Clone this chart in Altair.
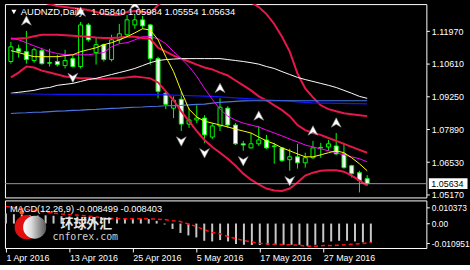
import altair as alt
import pandas as pd

FONT = "Liberation Sans"

# ---------------- data (AUDNZD daily) ----------------
opens = [1.1071,1.1124,1.1112,1.1075,1.1116,1.1066,1.1071,1.1054,1.1083,1.1050,
         1.1223,1.1108,1.1141,1.1079,1.1161,1.1182,1.1223,1.1244,1.1223,1.1083,
         1.0939,1.0877,1.0914,1.0811,1.0828,1.0836,1.0757,1.0803,1.0877,1.0807,
         1.0729,1.0712,1.0729,1.0745,1.0720,1.0712,1.0663,1.0675,1.0650,1.0671,
         1.0712,1.0716,1.0720,1.0687,1.0638,1.0609,1.05840]
highs = [1.1153,1.1141,1.1198,1.1128,1.1128,1.1124,1.1099,1.1120,1.1099,1.1235,
         1.1231,1.1169,1.1145,1.1182,1.1227,1.1264,1.1264,1.1260,1.1227,1.1091,
         1.0947,1.0926,1.0947,1.0877,1.0889,1.0848,1.0815,1.0918,1.0885,1.0815,
         1.0741,1.0774,1.0803,1.0766,1.0733,1.0714,1.0708,1.0729,1.0692,1.0741,
         1.0733,1.0745,1.0774,1.0733,1.0642,1.0617,1.05984]
lows = [1.1062,1.1087,1.1062,1.1066,1.1058,1.1050,1.1050,1.1042,1.1046,1.1042,
        1.1153,1.1058,1.1071,1.1071,1.1145,1.1174,1.1207,1.1207,1.1058,1.0918,
        1.0873,1.0836,1.0782,1.0795,1.0815,1.0733,1.0749,1.0782,1.0795,1.0724,
        1.0700,1.0710,1.0720,1.0708,1.0646,1.0654,1.0617,1.0626,1.0630,1.0667,
        1.0671,1.0700,1.0683,1.0626,1.0589,1.0527,1.05554]
closes = [1.1132,1.1112,1.1079,1.1120,1.1062,1.1064,1.1058,1.1075,1.1050,1.1223,
          1.1161,1.1141,1.1079,1.1161,1.1186,1.1244,1.1244,1.1219,1.1083,1.0947,
          1.0893,1.0910,1.0811,1.0828,1.0836,1.0766,1.0803,1.0881,1.0807,1.0729,
          1.0724,1.0729,1.0745,1.0712,1.0718,1.0659,1.0675,1.0650,1.0671,1.0712,
          1.0714,1.0729,1.0687,1.0630,1.0605,1.0576,1.05634]

ma_yellow = [1.1116,1.1108,1.1099,1.1091,1.1091,1.1091,1.1091,1.1095,1.1099,1.1112,
             1.1120,1.1128,1.1141,1.1149,1.1161,1.1174,1.1190,1.1207,1.1202,1.1161,
             1.1091,1.1029,1.0947,1.0873,1.0840,1.0823,1.0815,1.0807,1.0799,1.0790,
             1.0782,1.0774,1.0757,1.0741,1.0729,1.0712,1.0700,1.0687,1.0675,1.0675,
             1.0683,1.0692,1.0700,1.0692,1.0671,1.0646,1.0617]
ma_magenta = [1.1169,1.1161,1.1149,1.1136,1.1124,1.1112,1.1104,1.1099,1.1099,1.1099,
              1.1099,1.1104,1.1108,1.1132,1.1145,1.1149,1.1161,1.1174,1.1174,1.1165,
              1.1145,1.1112,1.1083,1.1050,1.1009,1.0959,1.0914,1.0873,1.0844,1.0827,
              1.0815,1.0807,1.0799,1.0786,1.0774,1.0762,1.0749,1.0737,1.0724,1.0716,
              1.0708,1.0700,1.0692,1.0683,1.0675,1.0667,1.0654]
ma_white = [1.0939,1.0943,1.0947,1.0951,1.0959,1.0963,1.0972,1.0976,1.0980,1.0988,
            1.0996,1.1001,1.1009,1.1017,1.1025,1.1033,1.1042,1.1054,1.1066,1.1075,
            1.1079,1.1081,1.1083,1.1083,1.1083,1.1083,1.1083,1.1083,1.1079,1.1075,
            1.1071,1.1066,1.1060,1.1050,1.1042,1.1029,1.1017,1.1005,1.0996,1.0988,
            1.0980,1.0972,1.0963,1.0951,1.0939,1.0926,1.0918]
ma_blue = [1.0937,1.0937,1.0937,1.0936,1.0935,1.0935,1.0934,1.0934,1.0934,1.0934,
           1.0934,1.0934,1.0934,1.0933,1.0933,1.0933,1.0933,1.0933,1.0933,1.0933,
           1.0932,1.0931,1.0930,1.0929,1.0928,1.0927,1.0926,1.0924,1.0922,1.0920,
           1.0918,1.0916,1.0914,1.0912,1.0910,1.0908,1.0906,1.0903,1.0901,1.0899,
           1.0898,1.0898,1.0897,1.0897,1.0896,1.0896,1.0895]
ma_steel = [1.0855,1.0857,1.0858,1.0860,1.0861,1.0863,1.0865,1.0866,1.0868,1.0869,
            1.0871,1.0872,1.0874,1.0876,1.0877,1.0879,1.0881,1.0882,1.0884,1.0885,
            1.0887,1.0888,1.0889,1.0891,1.0893,1.0894,1.0898,1.0901,1.0903,1.0905,
            1.0907,1.0908,1.0908,1.0908,1.0908,1.0908,1.0908,1.0908,1.0908,1.0908,
            1.0908,1.0908,1.0908,1.0908,1.0908,1.0908,1.0908]
band_outer = [1.1334,1.1330,1.1326,1.1322,1.1318,1.1310,1.1301,1.1297,1.1293,1.1289,
              1.1285,1.1277,1.1268,1.1264,1.1264,1.1277,1.1281,1.1277,1.1272,1.1305,
              1.1334,1.1359,1.1392,1.1421,1.1441,1.1450,1.1441,1.1425,1.1400,1.1375,
              1.1347,1.1318,1.1297,1.1268,1.1227,1.1174,1.1112,1.1021,1.0959,1.0922,
              1.0889,1.0873,1.0864,1.0856,1.0852,1.0848,1.0844]
band_upper = [1.1165,1.1167,1.1169,1.1176,1.1182,1.1182,1.1182,1.1180,1.1178,1.1176,
              1.1174,1.1171,1.1169,1.1169,1.1171,1.1174,1.1174,1.1169,1.1165,1.1128,
              1.1112,1.1095,1.1083,1.1071,1.1058,1.1046,1.1038,1.1025,1.1013,1.0992,
              1.0972,1.0951,1.0926,1.0910,1.0889,1.0869,1.0844,1.0807,1.0786,1.0774,
              1.0766,1.0753,1.0741,1.0729,1.0716,1.0704,1.0692]
band_lower = [1.1005,1.1025,1.1050,1.1046,1.1033,1.1025,1.1017,1.1009,1.1005,1.1001,
              1.1001,1.0998,1.0998,1.1001,1.1001,1.1005,1.1009,1.1005,1.1001,1.0984,
              1.0947,1.0910,1.0864,1.0823,1.0782,1.0745,1.0716,1.0692,1.0667,1.0638,
              1.0605,1.0580,1.0560,1.0543,1.0535,1.0533,1.0543,1.0568,1.0597,1.0609,
              1.0617,1.0619,1.0619,1.0613,1.0597,1.0576,1.0556]

macd_hist = [0.0045,0.0042,0.0040,0.0038,0.0036,0.0037,0.0035,0.0033,0.0032,0.0031,
             0.0030,0.0030,0.0029,0.0028,0.0027,0.0025,0.0025,0.0022,0.0020,0.0012,
             -0.0004,-0.0024,-0.0042,-0.0053,-0.0062,-0.0077,-0.0080,-0.0074,-0.0080,-0.0091,
             -0.0095,-0.0096,-0.0096,-0.0096,-0.0095,-0.0095,-0.0095,-0.0095,-0.0100,-0.0095,
             -0.0084,-0.0080,-0.0077,-0.0077,-0.0080,-0.0084,-0.0085]
macd_signal = [0.0077,0.0072,0.0067,0.0062,0.0057,0.0052,0.0047,0.0043,0.0040,0.0038,
               0.0035,0.0031,0.0027,0.0024,0.0022,0.0022,0.0022,0.0022,0.0021,0.0020,
               0.0018,0.0013,0.0009,-0.0002,-0.0013,-0.0028,-0.0040,-0.0046,-0.0058,-0.0068,
               -0.0076,-0.0083,-0.0088,-0.0091,-0.0093,-0.0094,-0.0095,-0.0097,-0.0102,-0.0102,
               -0.0098,-0.0098,-0.0097,-0.0094,-0.0092,-0.0089,-0.0084]

fractal_up = [2, 9, 16, 27, 32, 39, 42]
fractal_down = [8, 22, 25, 30, 36]

price_ticks = [1.11970, 1.10610, 1.09250, 1.07890, 1.06530, 1.05170]
last_price = 1.05634
date_ticks = [0, 8, 16, 24, 32, 40]
date_labels = ["1 Apr 2016", "13 Apr 2016", "25 Apr 2016", "5 May 2016", "17 May 2016", "27 May 2016"]
macd_tick_values = [0.00713, 0.0, -0.00886]
macd_tick_labels = ["0.010373", "0.00", "-0.010951"]
title_main = "AUDNZD,Daily\u00a0\u00a0 1.05840 1.05984 1.05554 1.05634"
title_macd = "MACD(12,26,9) -0.008499 -0.008403"

# ---------------- frames ----------------
n = len(closes)
idx = list(range(n))
df = pd.DataFrame({"i": idx, "o": opens, "h": highs, "l": lows, "c": closes})
df["body"] = ["white" if c < o else "black" for o, c in zip(opens, closes)]

xscale = alt.Scale(domain=[-0.125, 53], nice=False, zero=False)
yscale = alt.Scale(domain=[1.05061, 1.13095], nice=False, zero=False)
yaxis = alt.Axis(orient="right", values=price_ticks, format=".5f", title=None, grid=False,
                 domain=False, tickSize=3, tickColor="white", labelColor="white",
                 labelFont=FONT, labelFontSize=9, labelPadding=2,
                 labelOverlap=False, labelFlush=False)
X = alt.X("i:Q", scale=xscale, axis=None)


def Y(field):
    return alt.Y(field, type="quantitative", scale=yscale, axis=yaxis)


wicks = alt.Chart(df).mark_rule(color="#00ff00", strokeWidth=1).encode(
    x=X, y=Y("l"), y2="h")
bodies = alt.Chart(df).mark_bar(width=4, stroke="#00ff00", strokeWidth=1).encode(
    x=X, y=Y("o"), y2="c", fill=alt.Fill("body:N", scale=None))

line_specs = [
    (band_outer, "#e8174a", 2),
    (band_upper, "#e8174a", 2),
    (band_lower, "#e8174a", 2),
    (ma_white, "#ffffff", 1),
    (ma_blue, "#1414ff", 1.2),
    (ma_steel, "#4a74e0", 1.2),
    (ma_magenta, "#ff00ff", 1),
    (ma_yellow, "#ffff00", 1),
]
line_layers = []
for vals, col, w in line_specs:
    d = pd.DataFrame({"i": idx, "v": vals})
    line_layers.append(
        alt.Chart(d).mark_line(color=col, strokeWidth=w, clip=True).encode(x=X, y=Y("v")))

last_df = pd.DataFrame({"p": [last_price]})
price_rule = alt.Chart(last_df).mark_rule(color="#8898a8", strokeWidth=1).encode(y=Y("p"))
price_box = alt.Chart(last_df).mark_tick(orient="horizontal", size=39, thickness=11,
                                         color="white", opacity=1).encode(
    x=alt.value(447), y=Y("p"))
price_txt = alt.Chart(last_df).mark_text(align="left", baseline="middle", color="black",
                                         font=FONT, fontSize=9).encode(
    x=alt.value(430), y=Y("p"), text=alt.Text("p:Q", format=".5f"))

UP = "M0,-1 L0.95,0.8 L0,0.25 L-0.95,0.8 Z"
DOWN = "M0,1 L0.95,-0.8 L0,-0.25 L-0.95,-0.8 Z"
fr_up = alt.Chart(df[df.i.isin(fractal_up)]).mark_point(
    shape=UP, size=110, filled=True, color="white", stroke="#8a8a8a", strokeWidth=0.6,
    opacity=1, yOffset=-10, clip=True).encode(x=X, y=Y("h"))
fr_dn = alt.Chart(df[df.i.isin(fractal_down)]).mark_point(
    shape=DOWN, size=110, filled=True, color="white", stroke="#8a8a8a", strokeWidth=0.6,
    opacity=1, yOffset=10, clip=True).encode(x=X, y=Y("l"))

tdf = pd.DataFrame({"t": [title_main]})
title_txt = alt.Chart(tdf).mark_text(align="left", baseline="middle", color="white",
                                     font=FONT, fontSize=9.5).encode(
    x=alt.value(16), y=alt.value(8), text="t:N")
title_tri = alt.Chart(tdf).mark_point(shape="triangle-down", filled=True, color="white",
                                      size=26, opacity=1).encode(
    x=alt.value(9), y=alt.value(8))

main = alt.layer(wicks, bodies, *line_layers, price_rule, fr_up, fr_dn,
                 price_box, price_txt, title_txt, title_tri).properties(width=425, height=195)

# ---------------- MACD ----------------
mdf = pd.DataFrame({"i": idx, "hist": macd_hist, "sig": macd_signal, "zero": [0.0] * n})
mxaxis = alt.Axis(values=date_ticks,
                  labelExpr="[" + ",".join("'%s'" % s for s in date_labels) + "][round(datum.value/8)]",
                  orient="bottom", title=None, grid=False, domain=False, tickSize=4,
                  tickColor="white", labelColor="white", labelFont=FONT, labelFontSize=9,
                  labelAlign="left", labelBaseline="top", labelPadding=2,
                  labelOverlap=False, labelFlush=False)
MX = alt.X("i:Q", scale=xscale, axis=mxaxis)
myscale = alt.Scale(domain=[-0.010951, 0.010373], nice=False, zero=False)
lab_expr = ("datum.value > 0.001 ? '%s' : (datum.value < -0.001 ? '%s' : '%s')"
            % (macd_tick_labels[0], macd_tick_labels[2], macd_tick_labels[1]))
myaxis = alt.Axis(orient="right", values=macd_tick_values, labelExpr=lab_expr, title=None,
                  grid=False, domain=False, tickSize=3, tickColor="white", labelColor="white",
                  labelFont=FONT, labelFontSize=8.5, labelPadding=2,
                  labelOverlap=False, labelFlush=False)


def MY(field):
    return alt.Y(field, type="quantitative", scale=myscale, axis=myaxis)


hist = alt.Chart(mdf).mark_rule(color="#c8c8c8", strokeWidth=2).encode(
    x=MX, y=MY("zero"), y2="hist")
sig = alt.Chart(mdf).mark_line(color="#ff1010", strokeWidth=1.5, strokeDash=[4, 3]).encode(
    x=MX, y=MY("sig"))

one = pd.DataFrame({"a": [0]})
logo_red = alt.Chart(one).mark_point(shape="circle", filled=True, color="#e01010",
                                     size=600, opacity=1).encode(x=alt.value(22), y=alt.value(27))
sphere_grad = alt.Gradient(gradient="linear", x1=0, y1=0, x2=1, y2=0,
                           stops=[alt.GradientStop(color="#ffffff", offset=0),
                                  alt.GradientStop(color="#dcdcdc", offset=0.35),
                                  alt.GradientStop(color="#555555", offset=1)])
logo_sphere = alt.Chart(one).mark_point(shape="circle", filled=True, color=sphere_grad,
                                        size=540, opacity=1).encode(x=alt.value(30), y=alt.value(27))
logo_dot = alt.Chart(one).mark_point(shape="circle", filled=True, color="#ff5a20",
                                     size=22, opacity=1).encode(x=alt.value(17), y=alt.value(12))
cn_txt = alt.Chart(pd.DataFrame({"t": ["环球外汇"]})).mark_text(
    align="center", baseline="middle", color="#e6e6e6", font="Noto Sans CJK SC",
    fontSize=13, fontWeight="bold").encode(x=alt.value(82), y=alt.value(23.5), text="t:N")
url_txt = alt.Chart(pd.DataFrame({"t": ["cnforex.com"]})).mark_text(
    align="center", baseline="middle", color="#d0d0d0", font="DejaVu Sans Mono",
    fontSize=10).encode(x=alt.value(81), y=alt.value(36.5), text="t:N")
macd_title = alt.Chart(pd.DataFrame({"t": [title_macd]})).mark_text(
    align="left", baseline="middle", color="white", font=FONT, fontSize=9.3).encode(
    x=alt.value(5), y=alt.value(9), text="t:N")

macd = alt.layer(hist, sig, logo_red, logo_sphere, logo_dot, cn_txt, url_txt,
                 macd_title).properties(width=425, height=48)

chart = alt.vconcat(main, macd, spacing=3, bounds="flush").properties(
    background="black",
    padding={"left": 2, "top": 2, "right": 0, "bottom": 0},
).configure_view(stroke="white", strokeWidth=1)

chart.save("out.html", embed_options={"renderer": "svg", "actions": False})
